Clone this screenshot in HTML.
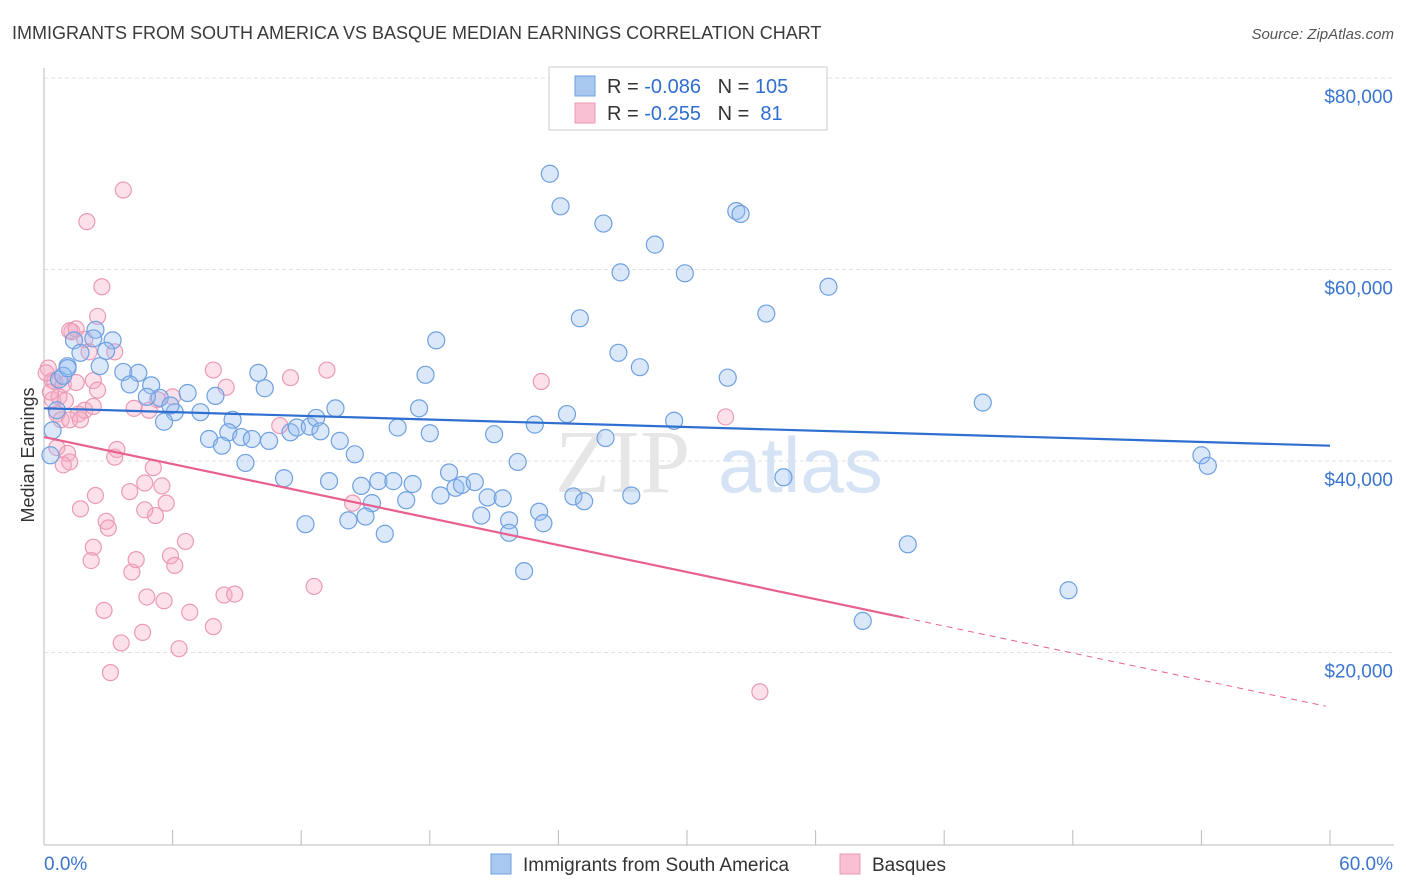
<!DOCTYPE html>
<html><head><meta charset="utf-8">
<style>
body{margin:0;background:#fff;font-family:"Liberation Sans",sans-serif;}
#wrap{position:relative;width:1406px;height:892px;overflow:hidden;}
</style></head>
<body>
<div id="wrap">
<svg id="chart" width="1406" height="892"></svg>
</div>
<script>
const blueX=[23.6,24.1,26.1,32.3,32.5,28.5,26.9,29.9,36.6,33.7,25.0,18.3,26.8,27.8,31.9,17.8,10.0,10.3,5.0,3.7,4.4,2.6,1.1,0.7,1.4,1.7,2.4,3.2,2.9,2.3,0.9,4.0,5.4,6.7,8.0,7.3,6.1,5.6,4.8,5.9,8.8,8.6,7.7,8.3,9.2,9.7,10.5,11.5,11.8,12.4,12.7,12.9,13.6,13.8,14.5,16.5,17.5,18.0,21.0,22.9,24.4,26.2,29.4,43.8,54.0,54.3,9.4,11.2,13.3,14.8,15.6,15.3,16.3,17.2,16.9,18.5,18.9,19.2,19.5,20.1,20.7,21.4,22.1,23.1,24.7,25.2,27.4,20.4,21.7,21.7,23.3,14.2,15.0,15.9,12.2,22.4,34.5,40.3,47.8,38.2,0.4,0.3,0.6,1.1];
const blueY=[70.0,66.6,64.8,66.1,65.8,62.6,59.7,59.6,58.2,55.4,54.9,52.6,51.3,49.8,48.7,49.0,49.2,47.6,47.9,49.3,49.2,49.9,49.9,48.5,52.6,51.3,53.7,52.6,51.5,52.8,48.9,48.0,46.6,47.1,46.8,45.1,45.1,44.1,46.7,45.8,44.3,43.0,42.3,41.6,42.5,42.3,42.1,43.0,43.5,43.6,44.5,43.1,45.5,42.1,40.7,43.5,45.5,42.9,42.8,43.8,44.9,42.4,44.2,46.1,40.6,39.5,39.8,38.2,37.9,37.4,37.9,35.6,37.9,37.6,35.9,36.4,38.8,37.2,37.5,37.8,36.2,36.1,39.9,34.7,36.3,35.8,36.4,34.3,33.8,32.5,33.5,33.8,34.2,32.4,33.4,28.5,38.3,31.3,26.5,23.3,43.2,40.6,45.3,49.7];
const pinkX=[3.7,2.0,2.7,2.5,1.3,1.2,1.5,1.9,2.1,3.3,0.2,0.4,0.5,0.9,1.5,2.3,2.5,0.4,0.7,1.0,0.6,1.6,1.9,2.3,0.8,1.2,1.7,0.6,1.1,1.2,0.9,3.4,3.3,4.2,4.9,5.3,6.0,7.9,8.5,11.5,13.2,23.2,31.8,11.0,5.1,4.0,4.7,5.5,5.7,2.4,1.7,2.9,3.0,5.2,4.7,2.3,2.2,4.1,4.3,5.9,6.1,6.6,14.4,12.6,4.8,5.6,2.8,6.8,8.4,8.9,7.9,4.6,3.6,6.3,3.1,33.4,0.1,0.3];
const pinkY=[68.3,65.0,58.2,55.1,53.5,53.6,53.8,52.7,51.4,51.4,49.7,48.4,48.3,48.0,48.2,48.4,47.4,46.4,46.7,46.3,44.9,44.9,45.3,45.7,44.3,44.3,44.3,41.4,40.8,39.9,39.6,41.2,40.4,45.5,45.3,46.4,46.7,49.5,47.7,48.7,49.5,48.3,44.6,43.7,39.3,36.8,37.7,37.4,35.6,36.4,35.0,33.7,33.0,34.3,34.9,31.0,29.6,28.4,29.7,30.1,29.1,31.6,35.6,26.9,25.8,25.4,24.4,24.2,26.0,26.1,22.7,22.1,21.0,20.4,17.9,15.9,49.2,47.2];
const blueTrend=[45.5,41.6]; // y (k$) at x=0 and x=60
const pinkTrend=[42.5,14.3];
const pinkSolidEnd=40.1;
const yTicks=[20,40,60,80];
const yTickLabels=["$20,000","$40,000","$60,000","$80,000"];
const xTicks=[0,6,12,18,24,30,36,42,48,54,60];

const NS="http://www.w3.org/2000/svg";
const svg=document.getElementById('chart');
const X=v=>44+v*(1330-44)/60;
const Y=v=>844-v*191.5/20;
function mk(tag,attrs,parent){const e=document.createElementNS(NS,tag);for(const k in attrs)e.setAttribute(k,attrs[k]);(parent||svg).appendChild(e);return e;}

// title
let t=mk('text',{x:12,y:39,'font-size':18,fill:'#3a3a3a'});t.textContent='IMMIGRANTS FROM SOUTH AMERICA VS BASQUE MEDIAN EARNINGS CORRELATION CHART';

t=mk('text',{x:1394,y:39,'font-size':15,fill:'#555','text-anchor':'end','font-style':'italic'});t.textContent='Source: ZipAtlas.com';


// gridlines & y labels
yTicks.forEach((v,i)=>{
  const g=mk('line',{x1:44,x2:1394,y1:Y(v),y2:Y(v),stroke:'#e2e2e2','stroke-dasharray':'4,3'});
  
  const l=mk('text',{x:1393,y:Y(v)+25,'font-size':19,fill:'#3a75d0','text-anchor':'end'});l.textContent=yTickLabels[i];
  
});
// axes
let a=mk('line',{x1:44,x2:44,y1:68,y2:845,stroke:'#bbb'});
a=mk('line',{x1:44,x2:1394,y1:845,y2:845,stroke:'#bbb'});
xTicks.forEach(v=>{const k=mk('line',{x1:X(v),x2:X(v),y1:830,y2:845,stroke:'#bbb'});});
t=mk('text',{x:44,y:870,'font-size':19,fill:'#3a75d0'});t.textContent='0.0%';
t=mk('text',{x:1393,y:870,'font-size':19,fill:'#3a75d0','text-anchor':'end'});t.textContent='60.0%';
t=mk('text',{x:34,y:455,'font-size':18,fill:'#333','text-anchor':'middle',transform:'rotate(-90 34 455)'});t.textContent='Median Earnings';


// watermark
t=mk('text',{x:555,y:492,'font-size':90,fill:'#e6e6e6','font-family':'Liberation Serif,serif'});t.textContent='ZIP';

t=mk('text',{x:718,y:492,'font-size':78,fill:'#d5e3f5'});t.textContent='atlas';


// points
pinkX.forEach((x,i)=>{const c=mk('circle',{cx:X(x),cy:Y(pinkY[i]),r:8,fill:'rgba(245,170,195,0.35)',stroke:'#eb9ab5','stroke-width':1.2});
});
blueX.forEach((x,i)=>{const c=mk('circle',{cx:X(x),cy:Y(blueY[i]),r:8.5,fill:'rgba(150,190,240,0.35)',stroke:'#6fa0e0','stroke-width':1.2});
});

// trend lines
let ln=mk('line',{x1:X(0),y1:Y(blueTrend[0]),x2:X(60),y2:Y(blueTrend[1]),stroke:'#2f6fd0','stroke-width':2.2});

const pAt=x=>pinkTrend[0]+(pinkTrend[1]-pinkTrend[0])*x/60;
ln=mk('line',{x1:X(0),y1:Y(pAt(0)),x2:X(pinkSolidEnd),y2:Y(pAt(pinkSolidEnd)),stroke:'#e8608f','stroke-width':2.2});

ln=mk('line',{x1:X(pinkSolidEnd),y1:Y(pAt(pinkSolidEnd)),x2:X(59.8),y2:Y(pAt(59.8)),stroke:'#e8608f','stroke-width':1,'stroke-dasharray':'6,5'});


// top legend
const lg=mk('g',{});
mk('rect',{x:549,y:67,width:278,height:63,fill:'#fff',stroke:'#ccc'},lg);
const rows=[['#a8c8f0','#6fa0e0','-0.086','105'],['#f8c0d2','#eb9ab5','-0.255',' 81']];
rows.forEach((r,i)=>{const y=86+i*27;
 mk('rect',{x:575,y:y-10,width:20,height:20,fill:r[0],stroke:r[1]},lg);
 let tx=mk('text',{x:607,y:y+7,'font-size':20,fill:'#333'},lg);
 tx.innerHTML='R = <tspan fill="#2f6fd0">'+r[2]+'</tspan>   N = <tspan fill="#2f6fd0">'+r[3]+'</tspan>';
 tx.setAttribute('xml:space','preserve');tx.style.whiteSpace='pre';
 
});

// bottom legend
[['#a8c8f0','#6fa0e0',491,'Immigrants from South America'],['#f8c0d2','#eb9ab5',840,'Basques']].forEach(r=>{
 const g=mk('g',{});
 mk('rect',{x:r[2],y:854,width:20,height:20,fill:r[0],stroke:r[1]},g);
 const tx=mk('text',{x:r[2]+32,y:871,'font-size':19,fill:'#333'},g);tx.textContent=r[3];
});
</script>
</body></html>
